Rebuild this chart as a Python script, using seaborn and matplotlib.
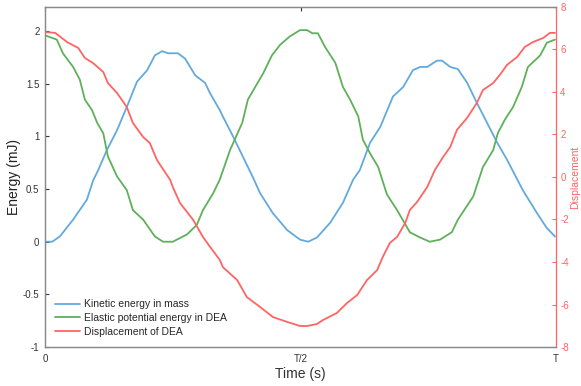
import seaborn as sns
import matplotlib.pyplot as plt
import pandas as pd
import numpy as np

# time is normalised to the period T (0 .. 1)
t_kinetic = [0, 0.014, 0.029, 0.055, 0.082, 0.094, 0.104, 0.121, 0.141, 0.160,
             0.180, 0.200, 0.215, 0.229, 0.241, 0.260, 0.274, 0.294, 0.313, 0.323,
             0.342, 0.348, 0.368, 0.387, 0.407, 0.421, 0.446, 0.474, 0.499, 0.515,
             0.532, 0.558, 0.583, 0.603, 0.616, 0.636, 0.656, 0.681, 0.701, 0.720,
             0.734, 0.748, 0.767, 0.777, 0.793, 0.808, 0.826, 0.845, 0.865, 0.885,
             0.904, 0.935, 0.963, 0.982, 0.998]
kinetic = [0, 0, 0.05, 0.21, 0.40, 0.58, 0.68, 0.87, 1.06, 1.28,
           1.52, 1.63, 1.77, 1.81, 1.79, 1.79, 1.74, 1.58, 1.51, 1.41,
           1.25, 1.19, 1.00, 0.81, 0.61, 0.46, 0.27, 0.11, 0.02, 0.00,
           0.04, 0.18, 0.37, 0.59, 0.68, 0.94, 1.09, 1.38, 1.47, 1.63,
           1.66, 1.66, 1.72, 1.72, 1.66, 1.64, 1.51, 1.32, 1.13, 0.94,
           0.78, 0.49, 0.27, 0.13, 0.05]

t_elastic = [0, 0.023, 0.035, 0.055, 0.068, 0.078, 0.092, 0.102, 0.114, 0.123,
             0.141, 0.160, 0.172, 0.192, 0.215, 0.231, 0.250, 0.278, 0.297, 0.309,
             0.329, 0.342, 0.362, 0.386, 0.397, 0.427, 0.444, 0.460, 0.479, 0.499,
             0.513, 0.523, 0.534, 0.548, 0.568, 0.583, 0.597, 0.613, 0.622, 0.636,
             0.652, 0.669, 0.689, 0.714, 0.734, 0.753, 0.773, 0.796, 0.808, 0.838,
             0.857, 0.877, 0.886, 0.900, 0.916, 0.933, 0.945, 0.969, 0.982, 0.998]
elastic = [1.96, 1.92, 1.79, 1.66, 1.54, 1.35, 1.25, 1.13, 1.03, 0.81,
           0.62, 0.49, 0.30, 0.21, 0.05, 0, 0, 0.07, 0.16, 0.30,
           0.46, 0.59, 0.87, 1.13, 1.35, 1.60, 1.77, 1.87, 1.95, 2.01,
           2.01, 1.98, 1.98, 1.85, 1.70, 1.47, 1.35, 1.19, 0.97, 0.84,
           0.71, 0.45, 0.30, 0.09, 0.04, 0, 0.02, 0.09, 0.21, 0.43,
           0.71, 0.87, 1.03, 1.16, 1.28, 1.47, 1.66, 1.77, 1.89, 1.92]

t_disp = [0, 0.020, 0.043, 0.065, 0.078, 0.094, 0.114, 0.123, 0.141, 0.160,
          0.172, 0.192, 0.205, 0.219, 0.245, 0.250, 0.264, 0.290, 0.309, 0.323,
          0.342, 0.348, 0.376, 0.395, 0.421, 0.446, 0.474, 0.499, 0.513, 0.532,
          0.544, 0.571, 0.591, 0.611, 0.630, 0.650, 0.661, 0.675, 0.689, 0.705,
          0.714, 0.728, 0.748, 0.763, 0.779, 0.793, 0.806, 0.826, 0.845, 0.857,
          0.877, 0.890, 0.904, 0.924, 0.939, 0.955, 0.975, 0.988, 0.998]
displacement = [6.82, 6.78, 6.35, 6.07, 5.60, 5.36, 4.94, 4.42, 3.95, 3.29,
                2.54, 1.88, 1.60, 0.80, -0.14, -0.47, -1.22, -2.02, -2.82, -3.29,
                -3.90, -4.24, -4.85, -5.65, -6.12, -6.59, -6.82, -7.01, -7.01, -6.92,
                -6.73, -6.40, -5.93, -5.55, -4.85, -4.38, -3.76, -3.10, -2.82, -2.16,
                -1.55, -1.18, -0.47, 0.33, 0.94, 1.41, 2.21, 2.78, 3.48, 4.09,
                4.42, 4.80, 5.27, 5.65, 6.12, 6.35, 6.54, 6.78, 6.78]

x_ticks = [0, 0.5, 1]
x_tick_labels = ['0', 'T/2', 'T']
y_ticks = [-1, -0.5, 0, 0.5, 1, 1.5, 2]
y_tick_labels = ['-1', '-0.5', '0', '0.5', '1', '1.5', '2']
y2_ticks = [-8, -6, -4, -2, 0, 2, 4, 6, 8]

blue = '#62aadd'
green = '#5fb05a'
red = '#ff6464'
axis_grey = '#8a8a8a'

sns.set_style("white")
plt.rcParams['font.family'] = ['Liberation Sans', 'DejaVu Sans']
plt.rcParams['axes.unicode_minus'] = False

fig = plt.figure(figsize=(5.81, 3.86), dpi=100)
ax = fig.add_axes([0.0775, 0.101, 0.8795, 0.881])
ax2 = ax.twinx()

df_k = pd.DataFrame({'t': t_kinetic, 'v': kinetic})
df_e = pd.DataFrame({'t': t_elastic, 'v': elastic})
df_d = pd.DataFrame({'t': t_disp, 'v': displacement})

sns.lineplot(data=df_k, x='t', y='v', color=blue, linewidth=1.3, ax=ax,
             label='Kinetic energy in mass', sort=False)
sns.lineplot(data=df_e, x='t', y='v', color=green, linewidth=1.3, ax=ax,
             label='Elastic potential energy in DEA', sort=False)
sns.lineplot(data=df_d, x='t', y='v', color=red, linewidth=1.3, ax=ax2,
             sort=False, legend=False)
# proxy entry so all three appear in one legend on the left axes
ax.plot([], [], color=red, linewidth=1.3, label='Displacement of DEA')

ax.set_xlim(0, 1)
ax.set_ylim(-1, 2.23)
ax2.set_ylim(-8, 8)

ax.set_xticks(x_ticks)
ax.set_xticklabels(x_tick_labels)
ax.set_yticks(y_ticks)
ax.set_yticklabels(y_tick_labels)
ax2.set_yticks(y2_ticks)

ax.tick_params(direction='in', length=3, width=0.8, labelsize=7, colors='#333333',
               top=True, pad=4)
ax.tick_params(axis='x', pad=5)
ax2.tick_params(direction='in', length=3, width=0.8, labelsize=7, colors=red, pad=3)

for name in ['left', 'bottom', 'top']:
    ax.spines[name].set_color(axis_grey)
    ax.spines[name].set_linewidth(0.9)
    ax2.spines[name].set_color(axis_grey)
    ax2.spines[name].set_linewidth(0.9)
ax2.spines['right'].set_color(red)
ax2.spines['right'].set_linewidth(0.9)
ax.spines['right'].set_visible(False)

ax.set_xlabel('Time (s)', fontsize=10, color='#333333', labelpad=2)
ax.set_ylabel('Energy (mJ)', fontsize=10, color='#222222')
ax.yaxis.set_label_coords(-0.048, 0.5)
ax2.set_ylabel('Displacement', fontsize=7.5, color=red, rotation=90)
ax2.yaxis.set_label_coords(1.027, 0.5)

ax.legend(loc='lower left', frameon=False, fontsize=7.5, handlelength=2.4,
          handletextpad=0.3, labelspacing=0.35, borderaxespad=0.6,
          bbox_to_anchor=(0.0, 0.0))

fig.savefig('out.png', dpi=100)
